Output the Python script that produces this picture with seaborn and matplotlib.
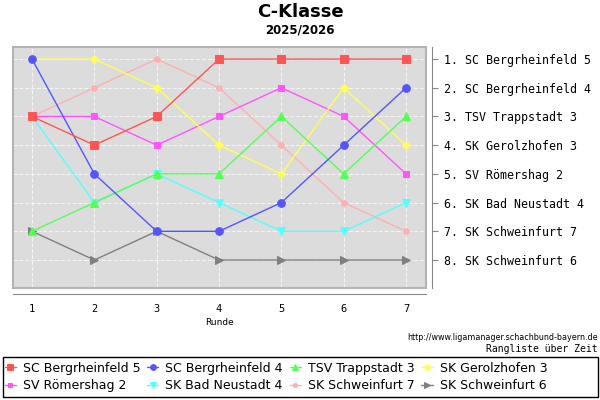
import pandas as pd
import matplotlib
matplotlib.use("Agg")
import matplotlib.pyplot as plt
from matplotlib.patches import Rectangle
import seaborn as sns

rounds = [1, 2, 3, 4, 5, 6, 7]
teams = ["SC Bergrheinfeld 5", "SC Bergrheinfeld 4", "TSV Trappstadt 3", "SK Gerolzhofen 3",
         "SV Römershag 2", "SK Bad Neustadt 4", "SK Schweinfurt 7", "SK Schweinfurt 6"]
places = {
    "SC Bergrheinfeld 5": [3, 4, 3, 1, 1, 1, 1],
    "SC Bergrheinfeld 4": [1, 5, 7, 7, 6, 4, 2],
    "TSV Trappstadt 3": [7, 6, 5, 5, 3, 5, 3],
    "SK Gerolzhofen 3": [1, 1, 2, 4, 5, 2, 4],
    "SV Römershag 2": [3, 3, 4, 3, 2, 3, 5],
    "SK Bad Neustadt 4": [3, 6, 5, 6, 7, 7, 6],
    "SK Schweinfurt 7": [3, 2, 1, 2, 4, 6, 7],
    "SK Schweinfurt 6": [7, 8, 7, 8, 8, 8, 8],
}
final_labels = ["1. SC Bergrheinfeld 5", "2. SC Bergrheinfeld 4", "3. TSV Trappstadt 3",
                "4. SK Gerolzhofen 3", "5. SV Römershag 2", "6. SK Bad Neustadt 4",
                "7. SK Schweinfurt 7", "8. SK Schweinfurt 6"]

colors = ["#ff5555", "#5555ff", "#55ff55", "#ffff55", "#ff55ff", "#55ffff", "#ffb0b0", "#808080"]
markers = ["s", "o", "^", "D", "s", "v", "o", ">"]
msizes = [6, 5.5, 6, 4.5, 4, 6, 4, 6]

rows = []
for t in teams:
    for r, p in zip(rounds, places[t]):
        rows.append({"Runde": r, "Platz": p, "Team": t})
df = pd.DataFrame(rows)

sns.set_style("white")
plt.rcParams["text.color"] = "black"
fig = plt.figure(figsize=(6, 4), dpi=100)
ax = fig.add_axes([13 / 600, 1 - 288 / 400, 413 / 600, 241 / 400])
ax.set_facecolor("#dcdcdc")

# earlier teams sit on top, like in the original
for i, (t, c, m, s) in enumerate(zip(teams, colors, markers, msizes)):
    sns.lineplot(data=df[df["Team"] == t], x="Runde", y="Platz", color=c, marker=m,
                 markersize=s, markeredgecolor=c, linewidth=1, label=t, ax=ax, zorder=20 - i)

ax.set_xlim(0.695, 7.32)
ax.set_ylim(8.975, 0.58)
ax.yaxis.tick_right()
ax.set_xticks(rounds)
ax.set_yticks(range(1, 9))
ax.set_yticklabels(final_labels)
ax.set_xticklabels([str(r) for r in rounds])
ax.grid(True, color="#f4f4f4", linestyle="--", linewidth=0.8, zorder=1)
ax.set_axisbelow(True)

for side in ["top", "left"]:
    ax.spines[side].set_visible(False)
for side in ["bottom", "right"]:
    ax.spines[side].set_position(("outward", 4))
    ax.spines[side].set_color("#888888")
ax.tick_params(axis="both", colors="#888888", length=4, labelcolor="black")
ax.tick_params(axis="y", pad=5)
for lab in ax.get_yticklabels():
    lab.set_fontfamily("DejaVu Sans Mono")
    lab.set_fontsize(8.4)
for lab in ax.get_xticklabels():
    lab.set_fontfamily("DejaVu Sans Mono")
    lab.set_fontsize(7.5)
ax.add_patch(Rectangle((0, 0), 1, 1, transform=ax.transAxes, fill=False,
                       edgecolor="#b4b4b4", linewidth=1.5, zorder=30, clip_on=False))

ax.set_xlabel("Runde", fontsize=6.5, labelpad=3, color="black")
ax.set_ylabel("")

handles, labels = ax.get_legend_handles_labels()
ax.get_legend().remove()
order = [0, 4, 1, 5, 2, 6, 3, 7]
fig.legend([handles[i] for i in order], [labels[i] for i in order], ncol=4,
           loc="center left", bbox_to_anchor=(2 / 600, 1 - 377 / 400),
           fontsize=9, frameon=False, markerscale=0.75,
           handlelength=0.9, handletextpad=0.55, columnspacing=0.55, borderpad=0.2,
           labelspacing=0.35, borderaxespad=0)
fig.patches.append(Rectangle((3 / 600, 3 / 400), 595 / 600, 40 / 400, transform=fig.transFigure,
                             fill=False, edgecolor="black", linewidth=1))

fig.text(0.5, 1 - 12 / 400, "C-Klasse", ha="center", va="center", fontsize=13, weight="bold")
fig.text(0.5, 1 - 30 / 400, "2025/2026", ha="center", va="center", fontsize=8.5, weight="bold")
fig.text(598 / 600, 1 - 337 / 400, "http://www.ligamanager.schachbund-bayern.de", ha="right",
         va="center", fontsize=5.8, family="Liberation Sans Narrow")
fig.text(598 / 600, 1 - 349 / 400, "Rangliste über Zeit", ha="right", va="center",
         fontsize=7, family="DejaVu Sans Mono")

fig.savefig("out.png", dpi=100)
